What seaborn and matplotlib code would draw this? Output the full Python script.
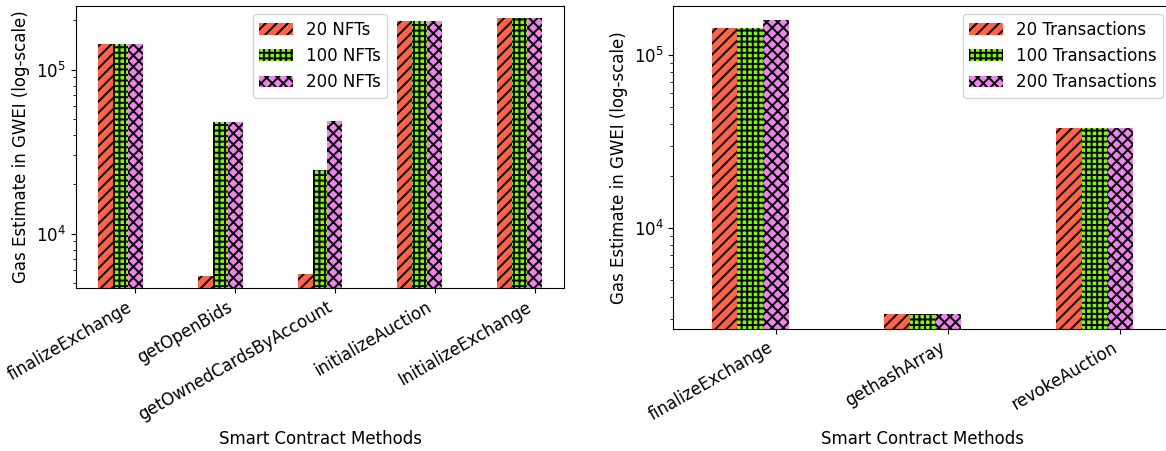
import numpy as np
import pandas as pd
import matplotlib
matplotlib.use("Agg")
import matplotlib.pyplot as plt
import seaborn as sns

plt.rcParams["font.size"] = 12
plt.rcParams["hatch.linewidth"] = 1.4

# ---- data (left panel) ----
nft_methods = ["finalizeExchange", "getOpenBids", "getOwnedCardsByAccount",
               "initializeAuction", "InitializeExchange"]
nft_groups = ["20 NFTs", "100 NFTs", "200 NFTs"]
nft_20 = [143500, 5550, 5700, 198000, 206000]
nft_100 = [143500, 48000, 24500, 198000, 206000]
nft_200 = [143500, 48000, 48700, 198000, 206000]

# ---- data (right panel) ----
tx_methods = ["finalizeExchange", "gethashArray", "revokeAuction"]
tx_groups = ["20 Transactions", "100 Transactions", "200 Transactions"]
tx_20 = [142600, 3200, 37900]
tx_100 = [142600, 3200, 37900]
tx_200 = [159000, 3200, 37900]

colors = ["#FF6347", "#7CFC00", "#EE82EE"]
hatches = ["///", "+++", "xxx"]


def make_df(methods, groups, series):
    rows = []
    for g, vals in zip(groups, series):
        for m, v in zip(methods, vals):
            rows.append({"method": m, "group": g, "gas": v})
    return pd.DataFrame(rows)


def draw(ax, methods, groups, series, ylim, legend_loc):
    df = make_df(methods, groups, series)
    sns.barplot(data=df, x="method", y="gas", hue="group", order=methods,
                hue_order=groups, palette=colors, width=0.45, gap=0,
                saturation=1, edgecolor="black", linewidth=0, ax=ax,
                legend=False)
    for cont, h in zip(ax.containers, hatches):
        for bar in cont:
            bar.set_hatch(h)
            bar.set_edgecolor("black")
            bar.set_linewidth(0)
    ax.set_yscale("log")
    ax.set_ylim(*ylim)
    n = len(methods)
    ax.set_xlim(-0.4475, n - 1 + 0.4475)
    ax.set_xticks(np.arange(n) + 0.15)
    ax.set_xticklabels(methods, rotation=30, ha="right")
    ax.set_xlabel("Smart Contract Methods")
    ax.set_ylabel("Gas Estimate in GWEI (log-scale)")
    ax.legend(ax.containers, groups, loc=legend_loc, fontsize=12)


fig = plt.figure(figsize=(11.66, 4.51), dpi=100)
ax1 = fig.add_axes([75.7 / 1166, (451 - 288.3) / 451, 488.6 / 1166, 282.6 / 451])
ax2 = fig.add_axes([673.3 / 1166, (451 - 328.7) / 451, 498.3 / 1166, 323.0 / 451])

draw(ax1, nft_methods, nft_groups, [nft_20, nft_100, nft_200],
     (4645, 245600), "upper center")
draw(ax2, tx_methods, tx_groups, [tx_20, tx_100, tx_200],
     (2635, 192500), "upper right")

fig.savefig("out.png", dpi=100)
